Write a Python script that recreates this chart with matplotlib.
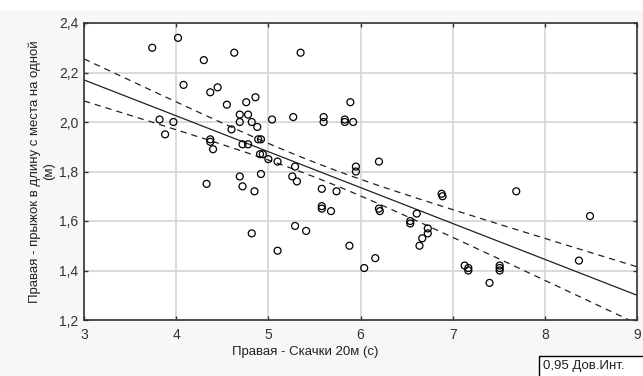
import numpy as np
import matplotlib
matplotlib.use("Agg")
import matplotlib.pyplot as plt
from matplotlib.patches import Rectangle
from matplotlib.ticker import FuncFormatter

plt.rcParams['font.family'] = ['Liberation Sans', 'DejaVu Sans']

# Правая - Скачки 20м (с)
run_20m = [3.74, 4.02, 4.30, 4.63, 5.35, 4.08, 4.37, 4.45, 4.55, 4.76,
           4.86, 3.82, 3.97, 3.88, 4.69, 4.78, 4.69, 4.82, 4.88, 4.60,
           5.04, 5.27, 5.60, 5.60, 5.83, 5.92, 5.89, 4.37, 4.37, 4.40,
           4.72, 4.78, 4.89, 4.92, 4.91, 4.94, 5.00, 5.10, 5.29, 5.95,
           5.95, 4.33, 4.69, 4.72, 4.92, 4.85, 5.26, 5.31, 5.58, 5.74,
           5.58, 5.58, 5.68, 5.29, 5.41, 4.82, 5.10, 5.88, 6.20, 6.20,
           6.21, 6.88, 6.89, 7.69, 6.54, 6.54, 6.61, 6.73, 6.73, 6.67,
           6.64, 6.16, 6.04, 7.13, 7.17, 7.17, 7.40, 7.51, 7.51, 7.51,
           8.37, 8.49, 5.83]
# Правая - прыжок в длину с места на одной (м)
jump = [2.30, 2.34, 2.25, 2.28, 2.28, 2.15, 2.12, 2.14, 2.07, 2.08,
        2.10, 2.01, 2.00, 1.95, 2.03, 2.03, 2.00, 2.00, 1.98, 1.97,
        2.01, 2.02, 2.02, 2.00, 2.01, 2.00, 2.08, 1.93, 1.92, 1.89,
        1.91, 1.91, 1.93, 1.93, 1.87, 1.87, 1.85, 1.84, 1.82, 1.82,
        1.80, 1.75, 1.78, 1.74, 1.79, 1.72, 1.78, 1.76, 1.73, 1.72,
        1.66, 1.65, 1.64, 1.58, 1.56, 1.55, 1.48, 1.50, 1.84, 1.65,
        1.64, 1.71, 1.70, 1.72, 1.60, 1.59, 1.63, 1.57, 1.55, 1.53,
        1.50, 1.45, 1.41, 1.42, 1.41, 1.40, 1.35, 1.42, 1.41, 1.40,
        1.44, 1.62, 2.00]

# линия регрессии
fit_x = [3, 9]
fit_y = [2.17, 1.30]
# полуширина 0,95 доверительного интервала в трёх точках
band_x = [3, 5.67, 9]
band_half = [0.085, 0.030, 0.115]

x_ticks = [3, 4, 5, 6, 7, 8, 9]
y_ticks = [1.2, 1.4, 1.6, 1.8, 2.0, 2.2, 2.4]

xl = np.linspace(3, 9, 200)
yl = np.interp(xl, fit_x, fit_y)
# h^2 квадратична по x (гипербола дов. интервала)
h2 = np.polyval(np.polyfit(band_x, np.square(band_half), 2), xl)
half = np.sqrt(np.clip(h2, 0, None))

fig = plt.figure(figsize=(6.43, 3.76), dpi=100, facecolor='white')
fig.patches.append(Rectangle((0, 0), 1, 1 - 11 / 376, transform=fig.transFigure,
                             facecolor='#f7f7f7', edgecolor='none', zorder=-10))

ax = fig.add_axes([84 / 643, 1 - 320 / 376, 553 / 643, 297 / 376])
ax.set_facecolor('white')

ax.scatter(run_20m, jump, s=25, facecolors='none', edgecolors='black', linewidths=0.9, zorder=3)
ax.plot(xl, yl, color='#222222', lw=0.9, zorder=2)
ax.plot(xl, yl + half, color='#222222', lw=0.9, ls=(0, (5, 4)), zorder=2)
ax.plot(xl, yl - half, color='#222222', lw=0.9, ls=(0, (5, 4)), zorder=2)

ax.set_xlim(3, 9)
ax.set_ylim(1.2, 2.4)
ax.set_xticks(x_ticks)
ax.set_yticks(y_ticks)
ax.xaxis.set_major_formatter(FuncFormatter(lambda v, p: '%d' % v))
ax.yaxis.set_major_formatter(FuncFormatter(lambda v, p: ('%.1f' % v).replace('.', ',')))
ax.grid(True, color='#d4d4d4', lw=1.2, zorder=0)
ax.tick_params(direction='in', length=3, width=1, labelsize=10, colors='#333333',
               top=True, right=True, pad=4)
ax.tick_params(axis='x', pad=6)
for sp in ax.spines.values():
    sp.set_color('#333333')
    sp.set_linewidth(1.2)

ax.set_ylabel('Правая - прыжок в длину с места на одной\n(м)', fontsize=9.5,
              color='#222222', labelpad=3, linespacing=1.15)
fig.text(305 / 643, 1 - 352 / 376, 'Правая - Скачки 20м (с)', fontsize=9.5,
         color='#222222', ha='center', va='center')

# рамка легенды
fig.patches.append(Rectangle((539 / 643, -0.05), 0.2, (1 - 356 / 376) + 0.05,
                             transform=fig.transFigure, facecolor='white',
                             edgecolor='black', lw=1))
fig.text(543 / 643, 1 - 366 / 376, '0,95 Дов.Инт.', fontsize=9.5,
         color='#222222', ha='left', va='center')

fig.savefig('out.png', dpi=100, facecolor=fig.get_facecolor())
